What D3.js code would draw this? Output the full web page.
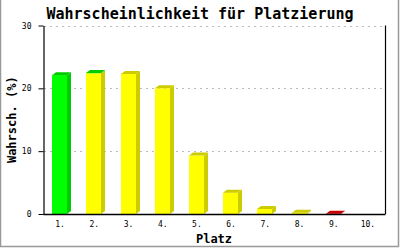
<!DOCTYPE html>
<html><head><meta charset="utf-8">
<script src="https://cdn.jsdelivr.net/npm/d3@7"></script>
<style>html,body{margin:0;padding:0;background:#fff;overflow:hidden}</style>
</head><body>
<script>
const places = ["1.","2.","3.","4.","5.","6.","7.","8.","9.","10."];
const yellow = [0, 22.4, 22.3, 20.0, 9.3, 3.4, 0.8, 0.2, 0, 0];
const green  = [22.1, 0.05, 0, 0, 0, 0, 0, 0, 0, 0];
const red    = [0, 0, 0, 0, 0, 0, 0, 0, 0.05, 0];
const yTicks = [0, 10, 20, 30];
const seriesNames = ["yellow","green","red"];
const seriesData = [yellow, green, red];

const W = 400, H = 250;
const m = {l:43, r:385, t:25.5, b:214};
const front = {green:"#00ff00", yellow:"#ffff00", red:"#ff0000"};
const dark  = {green:"#00cc00", yellow:"#cccc00", red:"#cc0000"};
const dx = 4, dy = 3, bw = 15;

const svg = d3.select("body").append("svg").attr("width",W).attr("height",H);
svg.append("rect").attr("x",0.5).attr("y",-2).attr("width",W-2).attr("height",H-1.5)
  .attr("fill","#fff").attr("stroke","#999").attr("stroke-width",1.5);

const x = d3.scaleBand().domain(places).range([m.l, m.r]);
const y = d3.scaleLinear().domain([0,30]).range([m.b, m.t]);

// grid
svg.append("g").selectAll("line").data(yTicks.filter(d=>d>0)).join("line")
  .attr("x1",m.l+1).attr("x2",m.r).attr("y1",d=>Math.round(y(d))+0.5).attr("y2",d=>Math.round(y(d))+0.5)
  .attr("stroke","#bbbbbb").attr("stroke-dasharray","2,4");

// bars
const stack = places.map((p,i)=>{
  let acc = 0; const segs = [];
  seriesNames.forEach((s,k)=>{
    const v = seriesData[k][i];
    if (v>0){ segs.push({p, s, y0:acc, y1:acc+v}); acc += v; }
  });
  return segs;
});
const gb = svg.append("g");
stack.forEach(segs=>{
  segs.forEach((sg,j)=>{
    const x0 = Math.round(x(sg.p) + x.bandwidth()/2 - bw/2 - 0.5);
    const x1 = x0 + bw;
    const yt = y(sg.y1), yb = y(sg.y0);
    gb.append("polygon")
      .attr("points",[[x1,yt],[x1+dx,yt-dy],[x1+dx,yb-dy],[x1,yb]].join(" "))
      .attr("fill",dark[sg.s]);
    gb.append("rect").attr("x",x0).attr("y",yt).attr("width",bw).attr("height",Math.max(0,yb-yt))
      .attr("fill",front[sg.s]);
    if (j===segs.length-1){
      gb.append("polygon")
        .attr("points",[[x0,yt],[x0+dx,yt-dy],[x1+dx,yt-dy],[x1,yt]].join(" "))
        .attr("fill",dark[sg.s]);
    }
  });
});

// axes
const yAxis = d3.axisLeft(y).tickValues(yTicks).tickSize(5).tickPadding(7).tickSizeOuter(0);
const gy = svg.append("g").attr("transform",`translate(${m.l+0.5},0)`).call(yAxis);
gy.select(".domain").attr("stroke","#000").attr("stroke-width",1.2);
gy.selectAll("text").attr("font-family","DejaVu Sans Mono").attr("font-size",8).attr("fill","#000");

const xAxis = d3.axisBottom(x).tickSize(0).tickPadding(7).tickSizeOuter(0);
const gx = svg.append("g").attr("transform",`translate(0,${m.b})`).call(xAxis);
gx.select(".domain").attr("stroke","#000").attr("stroke-width",1.5);
gx.selectAll("text").attr("font-family","DejaVu Sans Mono").attr("font-size",8).attr("fill","#000");

svg.append("line").attr("x1",m.r+0.5).attr("x2",m.r+0.5).attr("y1",m.t).attr("y2",m.b)
  .attr("stroke","#000").attr("stroke-width",1.2);

// titles
svg.append("text").attr("x",200).attr("y",19).attr("text-anchor","middle")
  .attr("font-family","DejaVu Sans Mono").attr("font-weight","bold").attr("font-size",15)
  .text("Wahrscheinlichkeit für Platzierung");
svg.append("text").attr("transform",`translate(16,${(m.t+m.b)/2}) rotate(-90)`).attr("text-anchor","middle")
  .attr("font-family","DejaVu Sans Mono").attr("font-weight","bold").attr("font-size",12)
  .text("Wahrsch. (%)");
svg.append("text").attr("x",(m.l+m.r)/2).attr("y",243).attr("text-anchor","middle")
  .attr("font-family","DejaVu Sans Mono").attr("font-weight","bold").attr("font-size",12)
  .text("Platz");
</script>
</body></html>
